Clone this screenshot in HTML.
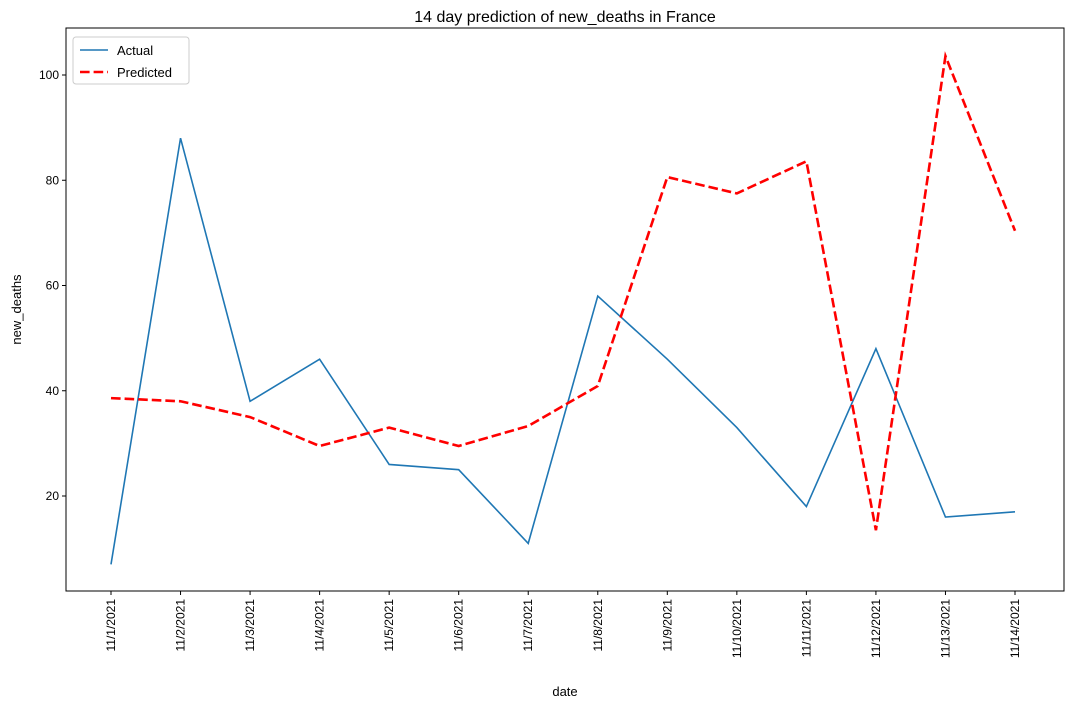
<!DOCTYPE html>
<html><head><meta charset="utf-8"><style>
body{margin:0;background:#fff;}
svg{display:block;font-family:"Liberation Sans","DejaVu Sans",sans-serif;}
</style></head><body>
<svg id="chart" width="1070" height="709"></svg>
<script>
const categories=["11/1/2021","11/2/2021","11/3/2021","11/4/2021","11/5/2021","11/6/2021","11/7/2021","11/8/2021","11/9/2021","11/10/2021","11/11/2021","11/12/2021","11/13/2021","11/14/2021"];
const actualValues=[7,88,38,46,26,25,11,58,46,33,18,48,16,17];
const predictedValues=[38.6,38,35,29.5,33,29.5,33.3,40.9,80.6,77.5,83.6,13.5,103.6,70.4];
const yTicks=[20,40,60,80,100];

const svg=document.getElementById('chart');
const NS='http://www.w3.org/2000/svg';
const L=66,R=1064,T=28,B=591;
const x0=111,xStep=(1015-111)/13;
function xs(i){return x0+i*xStep;}
function ys(v){return 601.25-v*5.2625;}
function mk(tag,attrs,parent){const e=document.createElementNS(NS,tag);for(const k in attrs)e.setAttribute(k,attrs[k]);(parent||svg).appendChild(e);return e;}

const title=mk('text',{x:(L+R)/2,y:22,'text-anchor':'middle','font-size':16,fill:'#000'});
title.textContent='14 day prediction of new_deaths in France';



const frame=mk('rect',{x:L,y:T,width:R-L,height:B-T,fill:'none',stroke:'#000','stroke-width':1});



yTicks.forEach(v=>{
  const y=ys(v);
  mk('line',{x1:L-4,x2:L,y1:y,y2:y,stroke:'#000'});
  const t=mk('text',{x:L-7,y:y+4,'text-anchor':'end','font-size':12});
  t.textContent=v;
  
  
});
categories.forEach((c,i)=>{
  const x=xs(i);
  mk('line',{x1:x,x2:x,y1:B,y2:B+4,stroke:'#000'});
  const t=mk('text',{x:x+4,y:B+8,'text-anchor':'end','font-size':12,transform:`rotate(-90 ${x+4} ${B+8})`});
  t.textContent=c;
  
  
});
const xl=mk('text',{x:(L+R)/2,y:696,'text-anchor':'middle','font-size':13});
xl.textContent='date';


const yl=mk('text',{x:21,y:(T+B)/2,'text-anchor':'middle','font-size':13,transform:`rotate(-90 21 ${(T+B)/2})`});
yl.textContent='new_deaths';



const pa=mk('polyline',{points:actualValues.map((v,i)=>xs(i)+','+ys(v)).join(' '),fill:'none',stroke:'#1f77b4','stroke-width':1.6});


const pp=mk('polyline',{points:predictedValues.map((v,i)=>xs(i)+','+ys(v)).join(' '),fill:'none',stroke:'#ff0000','stroke-width':2.6,'stroke-dasharray':'9.6,4'});



const lg=mk('g',{});


mk('rect',{x:73,y:37,width:116,height:47,rx:3,fill:'#fff',stroke:'#ccc'},lg);
mk('line',{x1:80,x2:108,y1:50,y2:50,stroke:'#1f77b4','stroke-width':1.6},lg);
const t1=mk('text',{x:117,y:55,'font-size':13},lg);t1.textContent='Actual';


mk('line',{x1:80,x2:108,y1:72,y2:72,stroke:'#ff0000','stroke-width':2.6,'stroke-dasharray':'9.6,4'},lg);
const t2=mk('text',{x:117,y:77,'font-size':13},lg);t2.textContent='Predicted';


</script>
</body></html>
